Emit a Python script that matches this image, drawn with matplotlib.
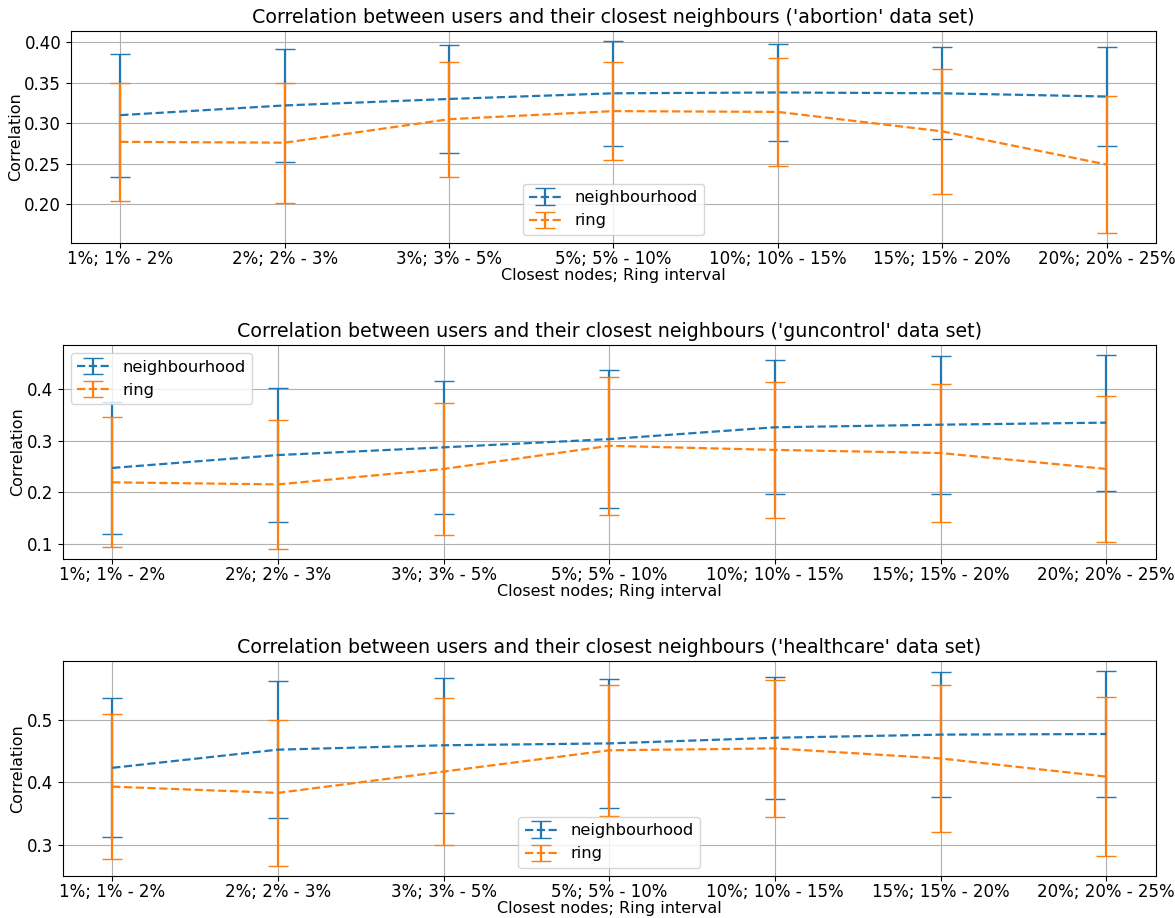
import numpy as np
import matplotlib
matplotlib.use("Agg")
import matplotlib.pyplot as plt
from matplotlib.ticker import MultipleLocator

labels = ["1%; 1% - 2%", "2%; 2% - 3%", "3%; 3% - 5%", "5%; 5% - 10%",
          "10%; 10% - 15%", "15%; 15% - 20%", "20%; 20% - 25%"]

datasets = ["abortion", "guncontrol", "healthcare"]

# mean correlation and standard deviation per data set
abortion_nb_mean = [0.310, 0.322, 0.330, 0.337, 0.338, 0.337, 0.333]
abortion_nb_std = [0.076, 0.070, 0.067, 0.065, 0.060, 0.057, 0.061]
abortion_ring_mean = [0.277, 0.276, 0.305, 0.315, 0.314, 0.290, 0.249]
abortion_ring_std = [0.073, 0.074, 0.071, 0.061, 0.067, 0.077, 0.085]

guncontrol_nb_mean = [0.247, 0.272, 0.287, 0.303, 0.326, 0.331, 0.335]
guncontrol_nb_std = [0.129, 0.130, 0.129, 0.134, 0.130, 0.134, 0.132]
guncontrol_ring_mean = [0.219, 0.215, 0.245, 0.290, 0.282, 0.276, 0.245]
guncontrol_ring_std = [0.126, 0.126, 0.129, 0.134, 0.132, 0.134, 0.142]

healthcare_nb_mean = [0.423, 0.452, 0.459, 0.462, 0.471, 0.476, 0.477]
healthcare_nb_std = [0.111, 0.109, 0.108, 0.103, 0.097, 0.100, 0.101]
healthcare_ring_mean = [0.393, 0.383, 0.417, 0.451, 0.454, 0.438, 0.409]
healthcare_ring_std = [0.116, 0.117, 0.117, 0.105, 0.109, 0.117, 0.127]

results = {
    "abortion": (abortion_nb_mean, abortion_nb_std, abortion_ring_mean, abortion_ring_std),
    "guncontrol": (guncontrol_nb_mean, guncontrol_nb_std, guncontrol_ring_mean, guncontrol_ring_std),
    "healthcare": (healthcare_nb_mean, healthcare_nb_std, healthcare_ring_mean, healthcare_ring_std),
}

legend_loc = {"abortion": "lower center", "guncontrol": "upper left", "healthcare": "lower center"}
ytick_step = {"abortion": 0.05, "guncontrol": 0.1, "healthcare": 0.1}

# axes boxes (left, bottom, width, height) in figure fractions
boxes = [
    [0.0604, 0.7353, 0.9234, 0.2309],
    [0.0532, 0.3911, 0.9306, 0.2331],
    [0.0532, 0.0458, 0.9306, 0.2342],
]

fig = plt.figure(figsize=(11.75, 9.18), dpi=100)
x = np.arange(len(labels))

for name, box in zip(datasets, boxes):
    nb_mean, nb_std, ring_mean, ring_std = results[name]
    ax = fig.add_axes(box)
    ax.errorbar(x, nb_mean, yerr=nb_std, fmt="--", capsize=7, lw=1.6, label="neighbourhood")
    ax.errorbar(x, ring_mean, yerr=ring_std, fmt="--", capsize=7, lw=1.6, label="ring")
    ax.set_xticks(x)
    ax.set_xticklabels(labels)
    ax.yaxis.set_major_locator(MultipleLocator(ytick_step[name]))
    ax.tick_params(labelsize=12)
    ax.tick_params(axis="x", pad=1.5)
    ax.set_xlabel("Closest nodes; Ring interval", fontsize=11.5, labelpad=0)
    ax.set_ylabel("Correlation", fontsize=11.5, labelpad=1)
    ax.set_title("Correlation between users and their closest neighbours ('%s' data set)" % name,
                 fontsize=13.7)
    ax.grid(True)
    ax.legend(loc=legend_loc[name], fontsize=11.7)

fig.savefig("out.png", dpi=100)
